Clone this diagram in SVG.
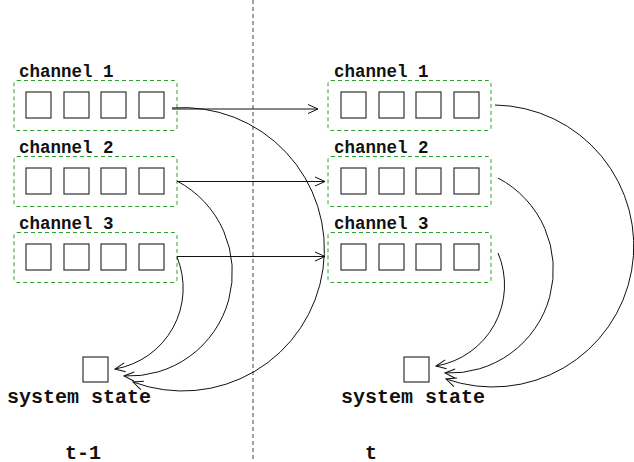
<svg xmlns="http://www.w3.org/2000/svg" width="634" height="462" viewBox="0 0 634 462">
<style>
.lbl{font-family:"Liberation Mono","Courier New",monospace;font-weight:bold;font-size:17.5px;fill:#111}
.big{font-size:20px}
.chan{fill:none;stroke:#2ca02c;stroke-width:1;stroke-dasharray:4,3}
.sq{fill:#fff;stroke:#333;stroke-width:1.2}
.conn{fill:none;stroke:#111;stroke-width:1}
</style>
<defs>
<marker id="arr" viewBox="0 0 12 12" refX="11" refY="6" markerWidth="12" markerHeight="12" markerUnits="userSpaceOnUse" orient="auto">
<path d="M1,1.5 L11,6 L1,10.5" fill="none" stroke="#111" stroke-width="1"/>
</marker>
</defs>
<rect width="634" height="462" fill="#fff"/>
<line x1="253" y1="0" x2="253" y2="462" stroke="#444" stroke-width="1" stroke-dasharray="4,3"/>

<g id="left-channel1">
<text class="lbl" x="19" y="77">channel 1</text>
<rect class="chan" x="14" y="80.5" width="163" height="50" rx="3"/>
<rect class="sq" x="26" y="92" width="25" height="26"/><rect class="sq" x="64" y="92" width="25" height="26"/><rect class="sq" x="101" y="92" width="25" height="26"/><rect class="sq" x="139" y="92" width="25" height="26"/>
</g>
<g id="left-channel2">
<text class="lbl" x="19" y="153">channel 2</text>
<rect class="chan" x="14" y="156.5" width="163" height="50" rx="3"/>
<rect class="sq" x="26" y="168" width="25" height="26"/><rect class="sq" x="64" y="168" width="25" height="26"/><rect class="sq" x="101" y="168" width="25" height="26"/><rect class="sq" x="139" y="168" width="25" height="26"/>
</g>
<g id="left-channel3">
<text class="lbl" x="19" y="229">channel 3</text>
<rect class="chan" x="14" y="232.5" width="163" height="50" rx="3"/>
<rect class="sq" x="26" y="244" width="25" height="26"/><rect class="sq" x="64" y="244" width="25" height="26"/><rect class="sq" x="101" y="244" width="25" height="26"/><rect class="sq" x="139" y="244" width="25" height="26"/>
</g>
<g id="left-state">
<rect class="sq" x="83" y="357" width="25" height="25"/>
<text class="lbl big" x="7" y="403">system state</text>
</g>
<g id="right-channel1">
<text class="lbl" x="334" y="77">channel 1</text>
<rect class="chan" x="328" y="80.5" width="163" height="50" rx="3"/>
<rect class="sq" x="341" y="92" width="25" height="26"/><rect class="sq" x="379" y="92" width="25" height="26"/><rect class="sq" x="416" y="92" width="25" height="26"/><rect class="sq" x="454" y="92" width="25" height="26"/>
</g>
<g id="right-channel2">
<text class="lbl" x="334" y="153">channel 2</text>
<rect class="chan" x="328" y="156.5" width="163" height="50" rx="3"/>
<rect class="sq" x="341" y="168" width="25" height="26"/><rect class="sq" x="379" y="168" width="25" height="26"/><rect class="sq" x="416" y="168" width="25" height="26"/><rect class="sq" x="454" y="168" width="25" height="26"/>
</g>
<g id="right-channel3">
<text class="lbl" x="334" y="229">channel 3</text>
<rect class="chan" x="328" y="232.5" width="163" height="50" rx="3"/>
<rect class="sq" x="341" y="244" width="25" height="26"/><rect class="sq" x="379" y="244" width="25" height="26"/><rect class="sq" x="416" y="244" width="25" height="26"/><rect class="sq" x="454" y="244" width="25" height="26"/>
</g>
<g id="right-state">
<rect class="sq" x="404" y="357" width="25" height="25"/>
<text class="lbl big" x="341" y="403">system state</text>
</g>
<g id="time-labels">
<text class="lbl big" x="65" y="459">t-1</text>
<text class="lbl big" x="365" y="459">t</text>
</g>

<g id="connectors">
<path class="conn" marker-end="url(#arr)" d="M172,109 L318,109"/>
<path class="conn" marker-end="url(#arr)" d="M177,181.5 L325,181.5"/>
<path class="conn" marker-end="url(#arr)" d="M177,256.5 L325,256.5"/>
<path class="conn" marker-end="url(#arr)" d="M172,108 A141.7,141.7 0 1 1 133,382"/>
<path class="conn" marker-end="url(#arr)" d="M177,181 A103.5,103.5 0 0 1 124,376"/>
<path class="conn" marker-end="url(#arr)" d="M177,257 A82,82 0 0 1 115,369"/>
<path class="conn" marker-end="url(#arr)" d="M495,105 A141,141 0 1 1 446,379"/>
<path class="conn" marker-end="url(#arr)" d="M498,178 A103.5,103.5 0 0 1 445,373"/>
<path class="conn" marker-end="url(#arr)" d="M498,253 A82,82 0 0 1 436,366"/>
</g>
</svg>
